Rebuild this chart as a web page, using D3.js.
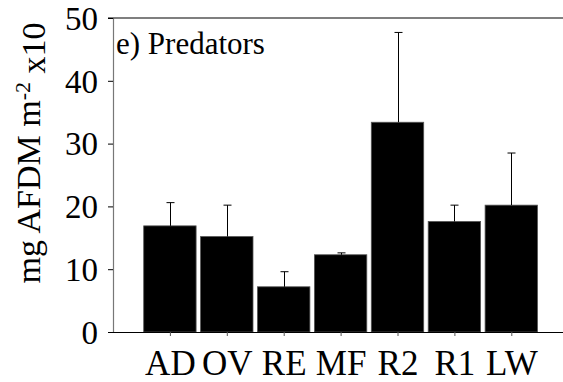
<!DOCTYPE html>
<html>
<head>
<meta charset="utf-8">
<script src="https://cdn.jsdelivr.net/npm/d3@7/dist/d3.min.js"></script>
</head>
<body style="margin:0">
<svg id="chart" width="563" height="382"></svg>
<script>
const categories = ["AD", "OV", "RE", "MF", "R2", "R1", "LW"];
const means = [16.9, 15.2, 7.2, 12.3, 33.4, 17.6, 20.2];
const upper = [20.6, 20.2, 9.6, 12.6, 47.7, 20.2, 28.5];
const yTicks = [0, 10, 20, 30, 40, 50];
const panelLabel = "e) Predators";

const svg = d3.select("#chart");
const mLeft = 113, mTop = 18, mBottom = 332;
const step = 56.9;
const SERIF = "Liberation Serif";

const x = d3.scaleLinear().domain([0, categories.length + 1]).range([mLeft, mLeft + step * (categories.length + 1)]);
const y = d3.scaleLinear().domain([0, 50]).range([mBottom, mTop]);
const barW = 52.4;

svg.selectAll("rect.bar").data(means).join("rect")
  .attr("class", "bar")
  .attr("x", (d, i) => x(i + 1) - barW / 2)
  .attr("y", d => y(d))
  .attr("width", barW)
  .attr("height", d => y(0) - y(d))
  .attr("fill", "#000")
  .attr("stroke", "#555")
  .attr("stroke-width", 0.8);

const eb = svg.append("g").attr("stroke", "#000").attr("stroke-width", 1);
means.forEach((m, i) => {
  const cx = Math.round(x(i + 1)) + 0.5;
  eb.append("line").attr("x1", cx).attr("x2", cx).attr("y1", y(m)).attr("y2", y(upper[i]));
  eb.append("line").attr("x1", cx - 4).attr("x2", cx + 4).attr("y1", y(upper[i])).attr("y2", y(upper[i]));
});

const yAxis = d3.axisLeft(y).tickValues(yTicks).tickSize(5).tickPadding(10).tickSizeOuter(0);
const gy = svg.append("g").attr("transform", `translate(${mLeft},0)`).call(yAxis);
gy.select(".domain").attr("stroke", "#777").attr("stroke-width", 1.2);
gy.selectAll(".tick line").attr("stroke", "#000");
gy.selectAll(".tick text").style("font-family", SERIF).style("font-size", "33px").attr("fill", "#000").attr("dy", "0.34em");

svg.append("line").attr("x1", mLeft - 5).attr("x2", 563).attr("y1", y(50)).attr("y2", y(50))
  .attr("stroke", "#000").attr("stroke-width", 1.2);

const xAxis = d3.axisBottom(x).tickValues(d3.range(1, categories.length + 1))
  .tickFormat(i => categories[i - 1]).tickSize(4).tickPadding(14).tickSizeOuter(0);
const gx = svg.append("g").attr("transform", `translate(0,${mBottom})`).call(xAxis);
gx.select(".domain").attr("d", `M${mLeft - 5},0.5H563`).attr("stroke", "#000").attr("stroke-width", 1.2);
gx.selectAll(".tick line").attr("stroke", "#555");
gx.selectAll(".tick text").style("font-family", SERIF).style("font-size", "35px").attr("fill", "#000");

const yl = svg.append("text")
  .attr("transform", `translate(40,${(mTop + mBottom) / 2 - 22}) rotate(-90)`)
  .attr("text-anchor", "middle")
  .style("font-family", SERIF)
  .style("font-size", "34px");
yl.append("tspan").text("mg AFDM m");
yl.append("tspan").attr("dy", "-0.45em").style("font-size", "22px").text("-2");
yl.append("tspan").attr("dy", "0.45em").text(" x10");

svg.append("text").attr("x", 116).attr("y", 54)
  .style("font-family", SERIF).style("font-size", "31px").text(panelLabel);
</script>
</body>
</html>
